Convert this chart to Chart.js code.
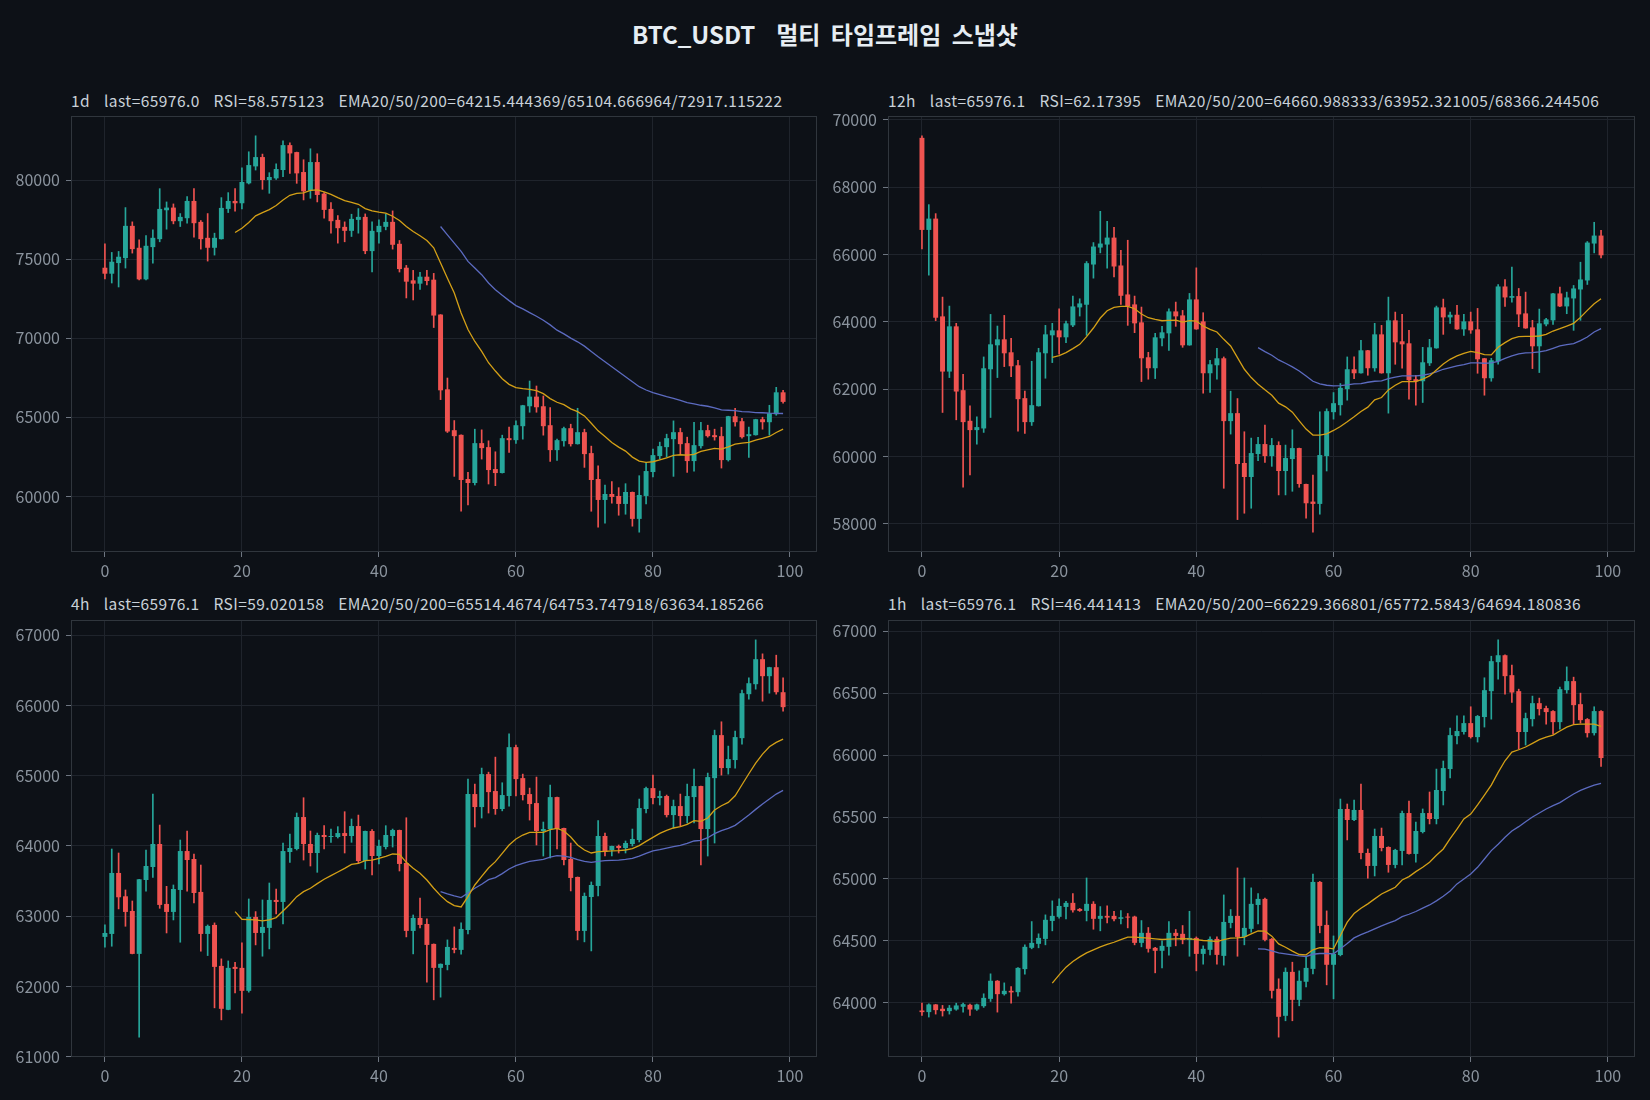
<!DOCTYPE html>
<html>
<head>
<meta charset="utf-8">
<script src="https://cdn.jsdelivr.net/npm/chart.js@4.4.1/dist/chart.umd.min.js"></script>
<style>
  html, body { margin: 0; background: #0d1117; }
  #page { position: relative; width: 1650px; height: 1100px; background: #0d1117;
          font-family: "Noto Sans CJK KR", "Noto Sans", sans-serif; overflow: hidden; }
  .suptitle { position: absolute; left: 0; width: 1650px; top: 18px; text-align: center;
              color: #e6edf3; font-weight: bold; font-size: 24px; line-height: 32px;
              white-space: pre; word-spacing: 5px; }
  .ptitle { position: absolute; color: #c9d1d9; font-size: 15.5px; line-height: 20px; white-space: pre;
            letter-spacing: 0.45px; word-spacing: 3px; }
  canvas { position: absolute; }
</style>
</head>
<body>
<div id="page">
  <div class="suptitle">BTC_USDT  멀티 타임프레임 스냅샷</div>
  <div class="ptitle" id="t1" style="left:71px; top:90px;"></div>
  <div class="ptitle" id="t2" style="left:888px; top:90px;"></div>
  <div class="ptitle" id="t3" style="left:71px; top:593px;"></div>
  <div class="ptitle" id="t4" style="left:888px; top:593px;"></div>
  <canvas id="c1" width="825" height="485" style="left:0; top:100px;"></canvas>
  <canvas id="c2" width="825" height="485" style="left:825px; top:100px;"></canvas>
  <canvas id="c3" width="825" height="485" style="left:0; top:604px;"></canvas>
  <canvas id="c4" width="825" height="485" style="left:825px; top:604px;"></canvas>
</div>
<script>
const xTicks = [0, 20, 40, 60, 80, 100];
const ema20Start = 19;
const ema50Start = 49;

// ---- 1d ----
const d1Title = "1d  last=65976.0  RSI=58.575123  EMA20/50/200=64215.444369/65104.666964/72917.115222";
const d1YTicks = [60000, 65000, 70000, 75000, 80000];
const d1Open = [
  74456,74078,74750,75065,77102,75716,73721,75758,76262,78089,
  78257,77396,77585,78677,77354,76346,75716,76262,78173,78677,
  78530,79790,80861,81449,80000,80105,80630,82205,81764,80504,
  79328,81134,79139,78173,77480,77039,76787,77480,77669,75506,
  76703,77039,77354,75968,74456,73658,73448,73889,73700,71495,
  66770,64187,63893,61100,60848,63368,63116,61730,61478,63683,
  63557,64439,65699,66308,65699,64502,62927,63494,64313,63305,
  64061,62738,61100,59777,60155,60029,59525,60281,58580,60029,
  61541,62549,63116,63620,64061,63368,62234,63179,64187,63872,
  63809,62297,65069,64754,63809,63872,64880,64691,65195,66581];
const d1High = [
  75968,75422,75485,78257,77354,76220,76493,76850,79454,78614,
  78488,77879,78950,79454,77438,77879,76640,78887,79202,79454,
  80777,81785,82793,81638,80462,81029,82478,82352,81764,81281,
  81974,81659,79202,78572,77753,77354,77837,78194,77858,77354,
  77480,77858,78047,76178,74603,74288,74162,74288,74099,71495,
  67484,64796,63893,61520,64250,64208,63515,62822,63872,64376,
  64775,65762,67295,66980,66350,65615,63620,64376,64565,65573,
  64250,63179,61940,60722,60932,60554,60806,60281,61310,62150,
  62990,63431,63935,64775,64313,63746,64691,64691,64502,64250,
  64376,65069,65573,64943,64376,64880,65006,65762,66896,66707];
const d1Low = [
  73742,73490,73238,74435,75380,73679,73679,74750,76094,76892,
  77228,77060,77270,76388,75632,74876,75254,76262,77942,78026,
  78173,79748,80630,79412,79160,80042,80210,80420,79790,78740,
  78845,78614,77585,76640,76010,76094,76430,76640,75338,74183,
  76010,76850,75632,74183,72545,72419,73091,73364,70676,66119,
  64040,61268,59063,59462,60722,62360,60785,60680,61478,62780,
  63347,63620,65321,65321,63872,62213,62276,63179,63179,63305,
  61835,59063,58055,58307,59567,58811,58874,58118,57740,59525,
  61226,62360,62486,61268,62675,61520,61604,63053,63746,63557,
  61793,62234,64439,63683,62465,63872,64250,63872,65132,65888];
const d1Close = [
  74078,74834,75149,77102,75632,73721,75842,76346,78173,78257,
  77396,77669,78677,77270,76262,75716,76346,78236,78677,78530,
  79874,80945,81449,80000,80189,80693,82205,81680,80420,79286,
  81134,79055,78110,77396,76955,76787,77543,77669,75506,76787,
  77102,77354,75905,74372,73574,73448,73889,73616,71432,66707,
  64103,63809,61037,60848,63368,63053,61667,61478,63683,63557,
  64502,65762,66308,65636,64439,62927,63557,64313,63305,64061,
  62675,61037,59777,60155,59966,59525,60281,58580,60092,61604,
  62612,63179,63683,64061,63305,62234,63242,64187,63809,63746,
  62297,65069,64691,63746,63935,64880,64691,65258,66581,65976];
const d1Ema20 = [
  76682,76955,77312,77732,77942,78131,78383,78740,79034,79160,
  79181,79349,79370,79244,79097,78887,78698,78593,78467,78194,
  78047,77963,77900,77711,77438,77060,76745,76472,76178,75716,
  74750,73784,72860,71600,70550,69794,69164,68450,67925,67442,
  67085,66875,66812,66770,66686,66497,66182,65951,65804,65531,
  65363,65090,64628,64145,63788,63410,63116,62864,62486,62234,
  62150,62192,62318,62444,62591,62633,62612,62654,62843,62948,
  63032,62990,63137,63305,63368,63410,63557,63662,63788,64040,
  64250];
const d1Ema50 = [
  77060,76535,76010,75485,74855,74435,74015,73490,73070,72713,
  72377,72062,71852,71621,71390,71138,70844,70508,70277,70004,
  69773,69500,69164,68828,68513,68198,67883,67568,67253,66938,
  66728,66560,66434,66308,66203,66077,65930,65846,65762,65699,
  65594,65468,65447,65426,65363,65342,65300,65290,65260,65250,
  65240];

// ---- 12h ----
const h12Title = "12h  last=65976.1  RSI=62.17395  EMA20/50/200=64660.988333/63952.321005/68366.244506";
const h12YTicks = [58000, 60000, 62000, 64000, 66000, 68000, 70000];
const h12Open = [
  69466,66730,67066,64161,62521,63865,61968,61059,60782,60831,
  62590,63301,63479,63094,62708,61731,61019,61493,63064,63598,
  63746,63539,63894,64428,64507,65702,66206,66295,66502,65673,
  64813,64517,63983,62946,62620,63509,63657,64309,64190,63301,
  64665,64013,62471,62708,62916,61049,61286,59804,59389,60071,
  60367,60011,60337,59567,59922,60248,59181,58658,58589,60011,
  61315,61523,62000,62590,62471,63153,62620,63627,62471,64043,
  63420,63361,62294,62234,62768,63213,64428,64131,64210,63776,
  64013,63776,62916,62323,62827,65050,64714,64764,64250,63835,
  63272,63924,64043,64843,64457,64694,64961,65228,66325,66562];
const h12High = [
  69526,67481,67214,64734,64467,63954,62442,61503,61177,62956,
  64220,63874,64190,63509,62857,61938,62827,63213,63894,63954,
  64388,64023,64764,64684,65791,66354,67283,66987,66809,66127,
  66423,64764,64438,63094,63657,63865,64388,64586,64339,64843,
  65603,64270,62857,63213,62956,61938,61720,60733,60545,60565,
  60930,60535,60436,60337,60792,60248,59181,59448,61326,61414,
  61898,62165,62956,62956,63449,63153,63954,63894,64734,64289,
  64220,63746,62412,63242,63479,64467,64675,64289,64487,64220,
  64289,64398,62916,62916,65109,65258,65623,64991,64882,64043,
  64378,64100,64843,65030,64882,65080,65771,66384,66957,66720];
const h12Low = [
  66167,65386,64032,61306,62343,61088,59083,59448,60367,60713,
  61157,62343,62669,62373,60752,60683,60920,61493,62323,62788,
  63035,63380,63855,64171,63598,65297,66048,65594,65337,64517,
  63894,63677,62224,62294,62313,63282,63153,63865,63242,63301,
  63776,61879,61898,62294,59053,60664,58123,58312,58460,59873,
  59824,59705,58856,58856,58964,59083,58164,57749,58283,59567,
  61108,61227,61671,62313,62471,62412,62531,62471,61286,62738,
  62620,61701,61523,61602,62700,63213,63627,63954,63776,63598,
  63657,62471,61819,62234,62738,64457,64586,63855,63805,62610,
  62492,63874,63924,64447,64240,63746,64043,65109,66048,65900];
const h12Close = [
  66730,67066,64121,62521,63865,61928,61019,60782,60871,62620,
  63331,63479,63064,62679,61701,61019,61523,63094,63627,63746,
  63539,63954,64457,64546,65742,66236,66325,66502,65643,64773,
  64457,63954,62916,62620,63539,63687,64309,64161,63301,64665,
  63776,62471,62738,62916,61049,61286,59774,59389,60100,60367,
  60011,60337,59567,59952,60248,59181,58608,58589,60041,61345,
  61582,62037,62590,62471,63153,62620,63627,62471,64043,63390,
  63331,62264,62234,62797,63242,64428,64131,64210,63776,64013,
  63746,62886,62323,62857,65050,64724,64764,64220,63805,63272,
  63954,64072,64843,64457,64724,64991,65258,66354,66562,65976];
const h12Ema20 = [
  62946,62995,63084,63203,63331,63558,63815,64112,64329,64428,
  64457,64457,64388,64230,64121,64072,64032,64043,64052,63993,
  64032,64023,63874,63776,63697,63479,63282,62936,62590,62343,
  62145,61978,61819,61582,61474,61316,61059,60812,60634,60634,
  60673,60772,60890,61029,61177,61335,61464,61681,61750,61977,
  62116,62224,62224,62224,62294,62392,62570,62748,62886,62985,
  63064,63123,63084,63025,63015,63242,63380,63499,63558,63568,
  63568,63578,63627,63726,63796,63874,63954,64131,64339,64536,
  64684];
const h12Ema50 = [
  63232,63114,63005,62867,62768,62659,62540,62392,62234,62155,
  62115,62096,62106,62125,62155,62165,62204,62234,62244,62313,
  62353,62392,62392,62392,62412,62451,62510,62590,62639,62689,
  62728,62778,62778,62768,62778,62827,62916,62985,63045,63074,
  63084,63104,63143,63212,63282,63321,63350,63440,63548,63697,
  63795];

// ---- 4h ----
const h4Title = "4h  last=65976.1  RSI=59.020158  EMA20/50/200=65514.4674/64753.747918/63634.185266";
const h4YTicks = [61000, 62000, 63000, 64000, 65000, 66000, 67000];
const h4Open = [
  62706,62748,63616,63284,63075,62464,63516,63701,64028,63175,
  63061,63374,63928,63815,63346,62748,62876,62293,61668,62279,
  62265,61938,62990,62762,62834,63232,63203,63914,63957,64412,
  64028,63900,64156,64128,64128,64184,64142,64284,63786,64213,
  63857,63985,64142,64227,63758,62791,62976,62890,62606,62265,
  62307,62549,62521,62805,64739,64554,65023,64782,64526,64711,
  65407,64966,64739,64611,64213,64241,64696,64256,63815,63559,
  62791,63274,63431,64142,63943,64000,63971,64028,64085,64526,
  64824,64682,64711,64440,64568,64426,64696,64853,64241,64966,
  65578,65109,65223,65535,66161,66303,66659,66417,66545,66189];
const h4High = [
  62876,63957,63900,63374,63217,63526,63943,64739,64298,63426,
  63445,64085,64213,63886,63729,62876,62905,62393,62364,62345,
  62620,63246,63066,63232,63473,63388,64042,64170,64469,64687,
  64213,64184,64289,64241,64275,64488,64384,64440,64213,64232,
  64085,64289,64241,64227,64402,63018,63260,62962,62606,62322,
  62663,62848,62905,64952,64881,65109,65051,65265,64900,65597,
  65436,65023,64824,64981,64341,64867,64696,64256,64042,63559,
  63331,63488,64360,64184,64000,64014,64071,64241,64668,64839,
  65009,64782,64725,64654,64739,64881,65094,64853,65038,65649,
  65768,65422,65635,66218,66393,66934,66735,66545,66716,66393];
const h4Low = [
  62559,62573,63104,62857,62464,61279,63355,63554,63113,62762,
  62947,62630,63355,63189,62502,62440,61696,61525,61668,61909,
  61620,61919,62592,62431,62535,63033,62890,63767,63943,63800,
  63715,63625,63957,64052,64113,63900,64052,63758,63672,63587,
  63744,63957,63985,63644,62706,62464,62834,62061,61810,61848,
  62236,62478,62459,62748,64270,64398,64469,64450,64500,64568,
  64711,64654,64369,64014,63857,63829,63957,63729,63360,62663,
  62635,62506,63289,63857,63857,63900,63900,64000,64057,64469,
  64597,64583,64412,64256,64279,64327,64327,63729,63857,64042,
  65009,65023,65109,65450,66090,66232,66061,66175,66161,65919];
const h4Close = [
  62762,63616,63270,63061,62464,63526,63715,64028,63161,63061,
  63388,63928,63800,63331,62748,62862,62279,61682,62265,62250,
  61938,62990,62762,62848,63232,63203,63928,63971,64412,64028,
  63900,64156,64128,64142,64184,64142,64284,63786,64213,63857,
  64000,64156,64227,63744,62791,62976,62876,62592,62265,62322,
  62563,62521,62819,64739,64554,65023,64767,64526,64725,65407,
  64952,64725,64597,64213,64241,64696,64241,63800,63545,62791,
  63289,63445,64142,63914,64000,63971,64042,64099,64540,64824,
  64682,64711,64440,64568,64426,64711,64853,64241,64981,65578,
  65109,65237,65550,66175,66317,66659,66417,66545,66189,65976];
const h4Ema20 = [
  63066,62957,62952,62947,62933,62947,62981,63075,63170,63279,
  63350,63398,63464,63526,63578,63630,63682,63739,63753,63791,
  63800,63824,63853,63886,63881,63767,63682,63611,63516,63398,
  63293,63208,63151,63132,63279,63445,63568,63687,63777,63895,
  64014,64099,64156,64194,64194,64194,64232,64251,64213,64128,
  64014,63943,63900,63919,63924,63929,63933,63943,63962,64005,
  64066,64123,64180,64222,64256,64275,64308,64360,64350,64398,
  64512,64573,64621,64715,64872,65028,65180,65308,65412,65474,
  65521];
const h4Ema50 = [
  63350,63317,63289,63265,63331,63398,63455,63521,63549,63606,
  63672,63720,63753,63781,63795,63810,63843,63862,63857,63838,
  63805,63781,63767,63781,63791,63795,63800,63810,63824,63857,
  63895,63929,63947,63971,63990,64009,64037,64071,64080,64118,
  64175,64218,64251,64294,64365,64440,64521,64597,64668,64739,
  64791];

// ---- 1h ----
const h1Title = "1h  last=65976.1  RSI=46.441413  EMA20/50/200=66229.366801/65772.5843/64694.180836";
const h1YTicks = [64000, 64500, 65000, 65500, 66000, 66500, 67000];
const h1Open = [
  63938,63925,63987,63952,63933,63946,63968,63984,63946,63973,
  64032,64178,64070,64097,64086,64272,64444,64476,64516,64661,
  64694,64774,64807,64758,64742,64799,64678,64702,64702,64678,
  64694,64696,64484,64565,64444,64420,64452,64565,64557,64508,
  64524,64395,64428,64516,64379,64645,64702,64532,64597,64790,
  64839,64516,64113,63895,64250,64024,64170,64274,64976,64629,
  64307,64387,65565,65476,65557,65210,65105,65347,65258,65113,
  65226,65532,65202,65379,65532,65484,65710,65887,66153,66186,
  66258,66145,66307,66516,66750,66806,66645,66516,66186,66290,
  66419,66379,66355,66266,66524,66597,66411,66290,66177,66355];
const h1High = [
  63997,63992,63987,63979,63979,63997,63997,63990,63990,64073,
  64234,64180,64161,64132,64285,64468,64656,64557,64710,64823,
  64839,64820,64882,64762,65008,64817,64777,64782,64739,64745,
  64721,64700,64664,64608,64448,64500,64656,64592,64624,64739,
  64532,64460,64532,64532,64871,64753,65089,65008,64928,64882,
  64845,64520,64194,64282,64328,64258,64368,65040,64980,64742,
  64540,65645,65605,65637,65766,65242,65403,65411,65260,65240,
  65548,65629,65460,65565,65702,65887,65952,66218,66317,66317,
  66390,66320,66624,66798,66930,66810,66726,66532,66339,66476,
  66460,66395,66360,66548,66712,66629,66500,66295,66390,66360];
const h1Low = [
  63898,63885,63909,63893,63909,63940,63925,63898,63938,63963,
  64011,63925,64062,63997,64054,64231,64436,64444,64468,64581,
  64683,64678,64731,64738,64661,64594,64581,64645,64661,64637,
  64605,64468,64452,64409,64242,64282,64385,64460,64476,64376,
  64258,64312,64387,64312,64304,64605,64376,64468,64570,64637,
  64500,64038,63723,63855,63855,63976,64129,64234,64565,64145,
  64032,64379,65315,65470,65161,65006,65024,65226,65054,65089,
  65113,65200,65135,65371,65444,65444,65597,65815,66091,66169,
  66137,66105,66226,66290,66613,66492,66425,66048,66081,66234,
  66323,66250,66169,66210,66500,66250,66258,66145,66161,65909];
const h1Close = [
  63925,63987,63941,63933,63960,63979,63989,63946,63987,64040,
  64178,64070,64097,64084,64282,64452,64484,64524,64670,64702,
  64782,64807,64747,64742,64799,64678,64702,64688,64675,64691,
  64688,64484,64565,64436,64420,64460,64565,64540,64508,64524,
  64395,64436,64516,64387,64653,64702,64532,64605,64799,64839,
  64508,64097,63887,64250,64024,64178,64282,64976,64621,64307,
  64395,65565,65476,65557,65210,65105,65347,65250,65113,65234,
  65532,65202,65387,65532,65484,65718,65895,66161,66194,66258,
  66145,66315,66524,66758,66806,66637,66505,66186,66298,66419,
  66371,66347,66266,66532,66597,66403,66282,66177,66355,65976];
const h1Ema20 = [
  64159,64226,64288,64334,64371,64403,64428,64452,64471,64489,
  64511,64530,64530,64527,64522,64516,64511,64514,64516,64519,
  64516,64511,64503,64500,64495,64511,64522,64524,64530,64557,
  64581,64578,64538,64476,64449,64417,64390,64387,64428,64446,
  64444,64436,64543,64651,64721,64764,64799,64839,64879,64906,
  64933,64992,65019,65059,65094,65135,65191,65242,65325,65403,
  65484,65524,65597,65677,65758,65860,65954,66024,66043,66065,
  66094,66124,66145,66161,66194,66226,66245,66250,66250,66250,
  66231];
const h1Ema50 = [
  64436,64433,64420,64403,64395,64387,64379,64374,64392,64398,
  64398,64395,64436,64479,64524,64551,64573,64597,64621,64643,
  64664,64696,64715,64737,64764,64790,64823,64860,64903,64960,
  65000,65040,65094,65161,65229,65280,65336,65387,65422,65462,
  65500,65532,65565,65592,65616,65651,65686,65715,65737,65758,
  65772];

const UP = "#26a69a";
const DOWN = "#ef5350";
const EMA20_COLOR = "#d4a017";
const EMA50_COLOR = "#5c6bc0";
const GRID = "#1f242c";
const SPINE = "#30363d";
const TICK = "#6e7681";
const LABEL = "#8b949e";
const FONT = {family: "'Noto Sans CJK KR', 'Noto Sans', sans-serif", size: 16};

// box around the plot area, like matplotlib spines
const frame = {
  id: "frame",
  afterDatasetsDraw(chart) {
    const {ctx, chartArea: a} = chart;
    ctx.save();
    ctx.strokeStyle = SPINE;
    ctx.lineWidth = 1;
    ctx.strokeRect(a.left + 0.5, a.top + 0.5, a.right - a.left - 1, a.bottom - a.top - 1);
    ctx.restore();
  }
};

function candleChart(canvasId, p, geo) {
  const idx = p.open.map((_, i) => i);
  const colors = idx.map(i => p.close[i] >= p.open[i] ? UP : DOWN);
  const lo = Math.min(...p.low), hi = Math.max(...p.high);
  const pad = (hi - lo) * 0.05;
  const last = idx.length - 1;

  new Chart(document.getElementById(canvasId), {
    type: "bar",
    data: {
      datasets: [
        {
          type: "line", label: "EMA20",
          data: p.ema20.map((v, k) => ({x: k + ema20Start, y: v})),
          borderColor: EMA20_COLOR, borderWidth: 1.3, pointRadius: 0, tension: 0, order: 0
        },
        {
          type: "line", label: "EMA50",
          data: p.ema50.map((v, k) => ({x: k + ema50Start, y: v})),
          borderColor: EMA50_COLOR, borderWidth: 1.3, pointRadius: 0, tension: 0, order: 0
        },
        {
          label: "body",
          data: idx.map(i => ({x: i, y: [p.open[i], p.close[i]]})),
          backgroundColor: colors, borderWidth: 0, grouped: false,
          categoryPercentage: 1, barPercentage: 0.72, minBarLength: 1, order: 1
        },
        {
          label: "wick",
          data: idx.map(i => ({x: i, y: [p.low[i], p.high[i]]})),
          backgroundColor: colors, borderWidth: 0, grouped: false,
          barThickness: 1, order: 2
        }
      ]
    },
    options: {
      responsive: false,
      animation: false,
      layout: {padding: {top: geo.padTop, right: geo.padRight, left: 0, bottom: 0}},
      plugins: {legend: {display: false}, tooltip: {enabled: false}},
      scales: {
        x: {
          type: "linear", offset: false,
          min: -0.05 * last, max: last * 1.05,
          afterBuildTicks: s => { s.ticks = xTicks.map(v => ({value: v})); },
          afterFit: s => { s.height = geo.xHeight; },
          grid: {color: GRID, offset: false, drawTicks: true, tickLength: 5, tickColor: TICK},
          border: {display: false},
          ticks: {color: LABEL, font: FONT, padding: 4, maxRotation: 0, autoSkip: false,
                  callback: v => String(v)}
        },
        y: {
          type: "linear", beginAtZero: false,
          min: lo - pad, max: hi + pad,
          afterBuildTicks: s => { s.ticks = p.yTicks.map(v => ({value: v})); },
          afterFit: s => { s.width = geo.yWidth; },
          grid: {color: GRID, drawTicks: true, tickLength: 5, tickColor: TICK},
          border: {display: false},
          ticks: {color: LABEL, font: FONT, padding: 6, callback: v => String(v)}
        }
      }
    },
    plugins: [frame]
  });
}

document.getElementById("t1").textContent = d1Title;
document.getElementById("t2").textContent = h12Title;
document.getElementById("t3").textContent = h4Title;
document.getElementById("t4").textContent = h1Title;

candleChart("c1",
  {open: d1Open, high: d1High, low: d1Low, close: d1Close, ema20: d1Ema20, ema50: d1Ema50, yTicks: d1YTicks},
  {padTop: 16, padRight: 8, yWidth: 71, xHeight: 33});
candleChart("c2",
  {open: h12Open, high: h12High, low: h12Low, close: h12Close, ema20: h12Ema20, ema50: h12Ema50, yTicks: h12YTicks},
  {padTop: 16, padRight: 15, yWidth: 63, xHeight: 33});
candleChart("c3",
  {open: h4Open, high: h4High, low: h4Low, close: h4Close, ema20: h4Ema20, ema50: h4Ema50, yTicks: h4YTicks},
  {padTop: 16, padRight: 8, yWidth: 71, xHeight: 32});
candleChart("c4",
  {open: h1Open, high: h1High, low: h1Low, close: h1Close, ema20: h1Ema20, ema50: h1Ema50, yTicks: h1YTicks},
  {padTop: 16, padRight: 15, yWidth: 63, xHeight: 32});
</script>
</body>
</html>
